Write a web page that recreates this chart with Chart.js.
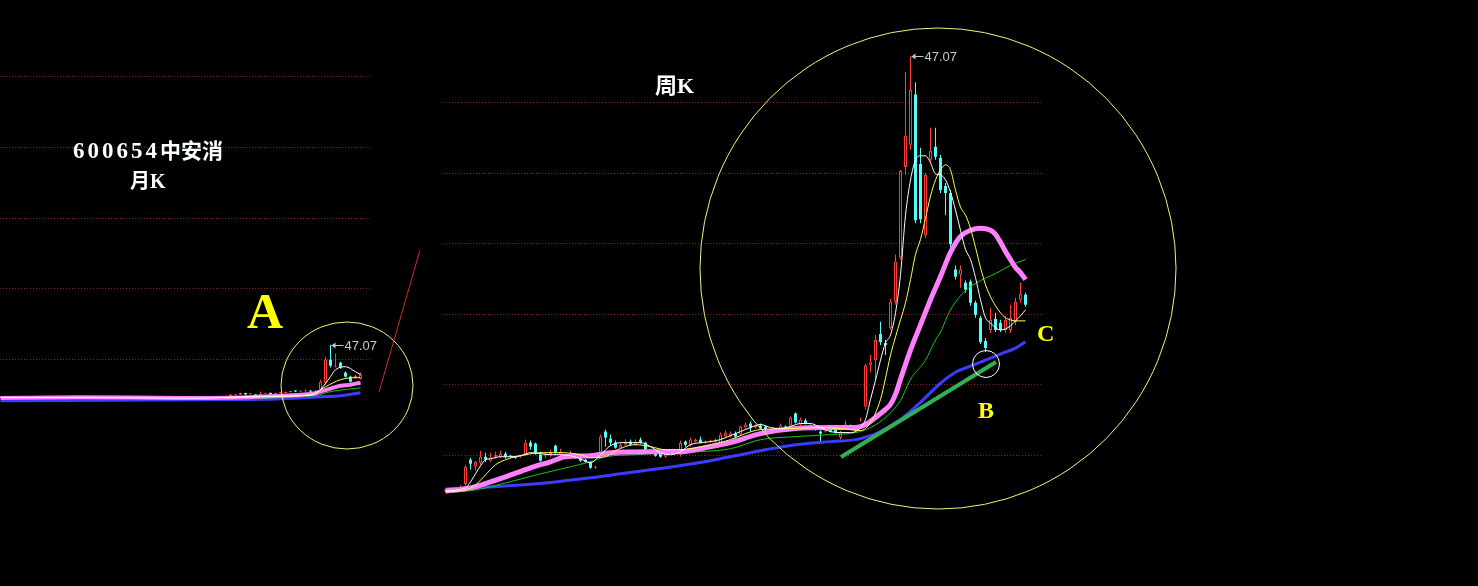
<!DOCTYPE html>
<html><head><meta charset="utf-8">
<script src="https://cdn.jsdelivr.net/npm/chart.js"></script>
<style>
html,body{margin:0;padding:0;background:#000;width:1478px;height:586px;overflow:hidden;}
#wrap{position:relative;width:1478px;height:586px;background:#000;}
canvas{position:absolute;left:0;top:0;}
.t{position:absolute;white-space:nowrap;line-height:1;font-weight:bold;font-family:"Liberation Serif","Noto Sans CJK SC",serif;}
.lbl{position:absolute;white-space:nowrap;font:13px/13px "Liberation Sans",Arial,sans-serif;color:#c8c8c8;}
</style></head><body>
<div id="wrap">
<canvas id="month" width="1478" height="586"></canvas>
<canvas id="week" width="1478" height="586"></canvas>
<div class="t" style="left:73px;top:139px;color:#fff;font-size:21px;"><span style="font-size:23px;letter-spacing:3px">600654</span><span>中安消</span></div>
<div class="t" style="left:130px;top:171px;color:#fff;font-size:20px;">月K</div>
<div class="t" style="left:655px;top:75px;color:#fff;font-size:22px;">周K</div>
<div class="t" style="left:247px;top:286px;color:#ffff00;font-size:50px;">A</div>
<div class="t" style="left:978px;top:398px;color:#ffff00;font-size:24px;">B</div>
<div class="t" style="left:1037px;top:321px;color:#ffff00;font-size:24px;">C</div>
<div class="lbl" id="peakW">47.07</div>
<div class="lbl" id="peakM">47.07</div>
</div>
<script>
// ---------------- weekly K (周K) ----------------
const weekOpen = [3.9,4.0,3.9,4.1,4.6,7.0,6.3,6.7,7.3,6.9,
 7.3,7.3,7.6,7.4,7.3,7.3,7.5,8.7,8.6,7.5,
 7.4,7.5,8.4,7.5,7.4,7.4,7.5,7.1,7.0,6.8,
 6.2,7.5,9.8,9.1,8.7,8.2,8.5,8.8,8.5,9.0,
 8.7,7.9,7.6,7.6,7.3,7.7,7.8,7.5,8.8,8.5,
 8.8,9.0,8.7,8.8,8.8,8.7,9.3,9.3,9.6,9.5,
 10.2,10.6,10.2,10.4,10.3,9.9,9.8,10.0,10.3,10.4,
 11.6,10.5,10.9,10.4,10.1,9.8,9.8,10.0,10.0,9.2,
 10.5,10.3,9.8,10.9,12.3,16.4,16.9,19.5,18.6,20.1,
 22.7,27.1,36.1,38.3,43.3,36.4,29.3,36.8,38.1,37.0,
 34.2,33.5,25.9,25.4,24.6,24.7,22.6,21.1,18.8,19.9,
 21.0,20.6,19.9,19.9,20.7,22.9,23.4];
const weekHigh = [4.1,4.1,4.2,4.5,6.5,7.2,6.9,7.9,7.7,7.7,
 7.8,7.9,7.8,7.5,7.4,7.5,9.0,8.9,8.7,7.8,
 7.8,8.0,8.5,8.1,7.6,7.9,7.6,7.2,7.1,6.9,
 6.4,9.5,10.0,9.5,8.9,8.7,9.0,9.0,9.0,9.2,
 8.8,8.0,7.8,7.7,7.7,7.9,8.0,8.9,8.9,9.2,
 9.1,9.3,8.9,9.0,9.1,9.7,9.9,9.8,9.8,10.4,
 10.7,10.8,10.5,10.6,10.4,10.0,10.1,10.6,10.4,11.3,
 11.7,11.2,11.1,10.5,10.2,9.9,10.3,10.1,10.1,9.9,
 10.9,10.5,10.1,11.2,16.5,17.4,19.4,20.7,18.9,23.0,
 27.4,35.8,45.5,47.07,44.5,38.0,35.5,40.0,40.0,37.3,
 34.5,33.8,26.3,26.3,24.8,24.9,22.8,21.3,19.1,22.1,
 21.6,20.9,21.3,22.4,23.1,24.6,23.6];
const weekLow = [3.8,3.8,3.8,4.0,4.4,6.0,5.9,6.5,6.8,6.8,
 7.1,7.2,7.1,7.2,7.1,7.2,7.4,8.0,7.5,6.8,
 7.2,7.3,7.6,7.4,7.1,7.3,7.1,6.8,6.7,6.1,
 6.1,7.3,8.3,8.4,8.1,8.1,8.4,8.4,8.4,8.6,
 7.9,7.6,7.3,7.2,7.2,7.6,7.7,7.3,8.3,8.3,
 8.7,8.6,8.6,8.7,8.7,8.6,9.2,9.2,9.1,9.4,
 10.1,9.8,10.1,10.0,9.9,9.6,9.7,9.8,9.9,10.3,
 10.6,10.4,10.5,10.1,9.9,8.8,9.7,9.7,9.6,9.0,
 10.4,10.1,9.7,10.8,12.0,15.7,15.0,18.4,17.4,19.9,
 22.4,26.9,35.3,37.8,30.5,30.5,29.0,36.5,36.8,33.5,
 31.3,28.0,24.9,24.1,23.6,22.3,21.1,18.5,17.7,19.6,
 19.7,19.7,19.6,19.6,20.4,22.6,22.2];
const weekClose = [4.0,3.9,4.0,4.3,6.3,6.6,6.8,7.3,7.0,7.2,
 7.5,7.6,7.3,7.3,7.2,7.4,8.7,8.3,7.7,6.9,
 7.6,7.7,7.7,7.8,7.2,7.7,7.2,6.9,6.8,6.2,
 6.3,9.3,9.2,8.7,8.2,8.5,8.8,8.5,8.8,8.7,
 8.0,7.8,7.4,7.3,7.6,7.8,7.9,8.7,8.5,9.0,
 9.0,8.7,8.8,8.9,9.0,9.5,9.7,9.6,9.3,10.3,
 10.5,10.2,10.4,10.1,10.0,9.7,10.0,10.4,10.0,11.2,
 10.7,11.0,10.6,10.2,10.0,9.6,10.2,9.8,9.7,9.7,
 10.6,10.2,10.0,11.0,16.4,16.7,18.9,18.7,18.4,22.7,
 26.7,35.7,39.2,43.75,30.8,30.9,35.3,37.7,37.1,33.8,
 33.5,28.4,25.2,25.9,23.9,22.6,21.4,18.7,18.1,20.9,
 19.9,19.9,20.9,21.1,22.7,23.5,22.4];
// moving-average lines: [week index, price]
const weekMAWhite = [[0,3.9],[4,4.2],[5,4.8],[6,5.6],[7,6.4],[8,7.0],[9,7.1],[11,7.3],[13,7.3],[15,7.4],[17,7.7],[19,7.6],[21,7.5],[23,7.5],[25,7.4],[27,7.1],[29,6.7],[31,7.5],[33,8.4],[35,8.7],[37,8.7],[39,8.7],[41,8.3],[43,7.7],[45,7.5],[47,7.8],[49,8.5],[51,8.7],[53,8.8],[55,9.0],[57,9.4],[59,9.8],[61,10.2],[63,10.5],[65,10.2],[67,10.1],[69,10.3],[71,10.6],[73,10.6],[75,10.2],[77,9.8],[79,9.7],[81,9.7],[82,9.8],[83,10.2],[84,11.0],[85,13.0],[86,14.9],[87,16.9],[88,18.6],[89,19.4],[90,21.6],[91,25.4],[92,31.3],[93,34.8],[94,36.8],[95,37.2],[96,37.2],[97,36.5],[98,35.4],[99,35.3],[100,34.8],[101,33.6],[102,31.8],[103,29.8],[104,27.9],[105,26.9],[106,25.1],[107,22.9],[108,21.1],[109,20.6],[110,20.1],[111,19.9],[112,20.0],[113,20.3],[114,20.8],[115,21.3],[116,21.9]];
const weekMAYellow = [[0,3.8],[4,4.0],[6,4.5],[8,5.5],[10,6.5],[12,7.0],[14,7.3],[16,7.5],[19,7.7],[23,7.7],[27,7.5],[29,7.2],[32,7.3],[34,7.9],[38,8.5],[41,8.3],[44,8.0],[47,8.0],[49,8.1],[53,8.5],[57,9.0],[60,9.6],[63,10.0],[70,10.1],[74,10.2],[79,10.1],[83,9.9],[85,10.7],[87,13.0],[88,15.1],[89,17.4],[90,19.2],[91,20.9],[92,22.6],[93,24.9],[94,27.4],[95,28.9],[96,31.0],[97,33.2],[98,34.8],[99,35.8],[100,36.3],[101,35.8],[102,33.8],[103,32.1],[104,31.3],[105,30.0],[106,28.1],[107,26.1],[108,24.4],[109,23.2],[110,22.3],[111,21.6],[112,21.1],[113,20.9],[114,20.8],[116,20.8]];
const weekMAPink = [[0,3.9],[5,4.2],[9,4.8],[12,5.3],[17,6.2],[21,6.8],[24,7.3],[29,7.4],[33,7.7],[41,7.8],[47,7.8],[51,8.1],[57,8.7],[63,9.6],[70,10.1],[77,10.2],[82,10.2],[84,10.5],[86,11.2],[88,12.0],[89,12.5],[90,13.5],[91,15.0],[93,17.9],[95,20.4],[97,22.9],[99,25.2],[101,27.6],[103,29.2],[105,29.8],[107,30.0],[109,29.8],[110,29.4],[111,28.6],[112,27.7],[113,26.9],[114,26.1],[115,25.6],[116,24.9]];
const weekMAGreen = [[0,3.7],[6,4.0],[12,4.7],[19,5.6],[25,6.3],[29,6.8],[32,7.3],[38,7.5],[44,7.7],[51,7.8],[57,8.1],[63,9.0],[70,9.3],[77,9.5],[82,9.7],[85,10.2],[88,11.2],[91,12.9],[93,15.0],[96,16.9],[98,18.9],[99,19.7],[101,21.9],[104,23.8],[107,24.8],[110,25.5],[113,26.3],[116,26.9]];
const weekMABlue = [[0,4.1],[9,4.3],[15,4.5],[22,4.8],[29,5.2],[35,5.6],[41,6.0],[48,6.5],[54,7.0],[58,7.4],[64,8.0],[70,8.5],[77,8.8],[82,9.0],[85,9.4],[87,9.8],[91,11.0],[95,12.7],[99,14.6],[102,15.7],[105,16.3],[108,16.9],[111,17.5],[114,18.1],[116,18.7]];
const weekGridTicks = [7.5,14.5,21.5,28.5,35.5,42.5];
const weekPeakIndex = 93;

// ---------------- monthly K (月K) ----------------
const monthOpen = [5.6,5.8,5.6,5.3,5.5,6.0,5.6,5.2,5.4,5.0,4.8,
 4.6,4.6,4.5,4.7,4.6,4.4,4.5,4.8,4.9,4.7,4.6,4.5,4.3,4.4,4.6,4.5,4.7,4.9,4.8,4.6,4.4,4.2,4.3,4.5,4.4,4.2,4.1,4.3,4.4,4.2,4.0,4.1,4.3,4.2,
 4.0,6.3,7.0,7.3,8.7,7.7,7.7,6.2,8.2,8.8,7.4,8.7,8.7,9.5,10.3,10.0,10.0,10.6,9.8,
 11.4,16.9,35.2,29.5,32.8,24.9,21.7,20.9,20.1];
const monthHigh = [6.2,6.4,6.0,5.8,6.3,6.4,5.9,5.6,5.7,5.4,5.2,
 4.9,4.8,4.9,4.9,4.8,4.7,5.0,5.2,5.1,4.9,4.8,4.7,4.6,4.8,4.8,4.9,5.1,5.1,5.0,4.8,4.6,4.5,4.7,4.7,4.6,4.4,4.5,4.6,4.6,4.4,4.3,4.5,4.5,4.4,
 6.5,7.9,7.9,9.0,8.9,8.5,7.9,10.0,9.0,9.2,8.9,9.3,9.9,10.4,10.8,10.6,11.7,11.1,11.2,
 19.3,37.5,47.07,40.0,33.6,25.7,22.5,23.3,25.0];
const monthLow = [5.2,5.4,5.0,4.9,5.2,5.4,5.0,4.8,4.8,4.6,4.4,
 4.3,4.3,4.3,4.4,4.2,4.2,4.3,4.6,4.5,4.4,4.3,4.1,4.1,4.2,4.3,4.3,4.5,4.6,4.4,4.2,4.0,4.0,4.1,4.2,4.0,3.9,3.9,4.1,4.0,3.8,3.8,3.9,4.0,3.8,
 3.8,5.9,6.8,7.1,6.8,7.1,6.1,6.1,8.1,7.3,7.2,8.3,8.6,9.1,9.6,9.6,9.9,8.8,9.0,
 9.8,15.3,28.8,29.0,28.0,21.0,17.0,20.1,19.5];
const monthClose = [5.8,5.6,5.3,5.5,6.0,5.6,5.2,5.4,5.0,4.8,4.6,
 4.6,4.5,4.7,4.6,4.4,4.5,4.8,4.9,4.7,4.6,4.5,4.3,4.4,4.6,4.5,4.7,4.9,4.8,4.6,4.4,4.2,4.3,4.5,4.4,4.2,4.1,4.3,4.4,4.2,4.0,4.1,4.3,4.2,4.0,
 6.3,7.0,7.3,8.7,7.7,7.7,6.2,8.2,8.8,7.4,8.7,8.7,9.5,10.3,10.0,10.0,10.6,9.8,10.0,
 17.7,35.2,30.4,30.4,28.8,21.7,17.7,22.5,23.3];
const monthMAPink = [[0,4.8],[16,5.4],[36,4.8],[50,5.4],[56,6.6],[60,7.4],[63,8.6],[64,9.8],[66,12.2],[68,14.5],[70,15.3],[72,16.9]];
const monthMABlue = [[0,2.6],[40,3.4],[56,4.2],[64,5.8],[68,6.6],[72,9.0]];
const monthMAWhite = [[0,5.2],[20,5.0],[40,4.6],[50,6.0],[60,6.6],[63,8.2],[64,11.4],[66,21.7],[67,27.2],[69,29.6],[71,25.6],[72,23.3]];
const monthMAYellow = [[45,4.8],[55,6.0],[62,7.4],[65,13.7],[68,19.3],[71,20.9],[72,20.9]];
const monthMAGreen = [[45,4.4],[63,6.6],[66,9.8],[72,12.9]];
const monthGridTicks = [36,92,148,204,260];
const monthPeakIndex = 66;
const peakValue = 47.07;

const RED = '#ff3c3c', CYAN = '#54fcfc';

function candleSets(open, high, low, close, bodyW) {
  const idx = open.map((_, i) => i);
  const up = i => close[i] >= open[i];
  return [
    { type: 'bar', data: idx.map(i => ({ x: i, y: [low[i], high[i]] })), barThickness: 1,
      backgroundColor: idx.map(i => up(i) ? RED : CYAN), borderWidth: 0, grouped: false,
      order: 10, minBarLength: 1, inflateAmount: 0 },
    { type: 'bar', data: idx.map(i => ({ x: i, y: [open[i], close[i]] })), barThickness: bodyW,
      backgroundColor: idx.map(i => up(i) ? '#000' : CYAN), borderColor: idx.map(i => up(i) ? RED : CYAN),
      borderWidth: idx.map(i => up(i) ? 1 : 0), borderSkipped: false, grouped: false,
      order: 9, minBarLength: 1, inflateAmount: 0 }
  ];
}
function maSet(points, color, width, order) {
  return { type: 'line', data: points.map(p => ({ x: p[0], y: p[1] })), borderColor: color,
    borderWidth: width, pointRadius: 0, cubicInterpolationMode: 'monotone', fill: false, order: order };
}
function gridPlugin(ticks, x0, x1) {
  return { id: 'grid', beforeDatasetsDraw(chart) {
    const c = chart.ctx, y = chart.scales.y;
    c.save(); c.strokeStyle = '#8b1a1a'; c.lineWidth = 1; c.setLineDash([1, 2]);
    ticks.forEach(v => { const py = Math.round(y.getPixelForValue(v)) + 0.5;
      c.beginPath(); c.moveTo(x0, py); c.lineTo(x1, py); c.stroke(); });
    c.restore();
  } };
}
function peakPlugin(idx, elId) {
  return { id: 'peak', afterDatasetsDraw(chart) {
    const x = chart.scales.x.getPixelForValue(idx), y = Math.round(chart.scales.y.getPixelForValue(peakValue)) + 0.5;
    const c = chart.ctx; c.save(); c.strokeStyle = '#c8c8c8'; c.fillStyle = '#c8c8c8'; c.lineWidth = 1;
    c.beginPath(); c.moveTo(x + 1, y); c.lineTo(x + 13, y); c.stroke();
    c.beginPath(); c.moveTo(x + 1, y); c.lineTo(x + 5, y - 3); c.lineTo(x + 5, y + 3); c.closePath(); c.fill();
    c.restore();
    const el = document.getElementById(elId); el.style.left = (x + 14) + 'px'; el.style.top = (y - 7) + 'px';
  } };
}
const annotPlugin = { id: 'annot', afterDraw(chart) {
  const c = chart.ctx; c.save();
  c.lineWidth = 1; c.strokeStyle = '#f2f27a';
  c.beginPath(); c.ellipse(938, 268.5, 238, 240.5, 0, 0, Math.PI * 2); c.stroke();
  c.beginPath(); c.ellipse(347, 385.5, 66, 63.5, 0, 0, Math.PI * 2); c.stroke();
  c.strokeStyle = '#d02a2a'; c.beginPath(); c.moveTo(379, 392); c.lineTo(420, 250); c.stroke();
  c.strokeStyle = '#34b054'; c.lineWidth = 4; c.lineCap = 'butt';
  c.beginPath(); c.moveTo(841, 457); c.lineTo(996, 362); c.stroke();
  c.strokeStyle = '#ffffff'; c.lineWidth = 1;
  c.beginPath(); c.arc(986, 364, 13.5, 0, Math.PI * 2); c.stroke();
  c.restore();
} };

const common = { responsive: false, animation: false, devicePixelRatio: 1, events: [],
  plugins: { legend: { display: false }, tooltip: { enabled: false } } };

new Chart(document.getElementById('month'), {
  type: 'bar',
  data: { datasets: [
    ...candleSets(monthOpen, monthHigh, monthLow, monthClose, 3),
    maSet(monthMABlue, '#3c3cff', 3, 5),
    maSet(monthMAGreen, '#10c810', 1, 4),
    maSet(monthMAPink, '#ff7fff', 4, 3),
    maSet(monthMAYellow, '#ffff50', 1, 2),
    maSet(monthMAWhite, '#ffffff', 1, 1)
  ] },
  options: Object.assign({}, common, {
    layout: { padding: { left: 0, right: 1106, top: 52, bottom: 182 } },
    scales: { x: { type: 'linear', display: false, min: -0.1, max: 74.3, offset: false },
              y: { type: 'linear', display: false, min: 0, max: 279.4 } }
  }),
  plugins: [gridPlugin(monthGridTicks, 0, 372), peakPlugin(monthPeakIndex, 'peakM')]
});

new Chart(document.getElementById('week'), {
  type: 'bar',
  data: { datasets: [
    ...candleSets(weekOpen, weekHigh, weekLow, weekClose, 3),
    maSet(weekMABlue, '#3c3cff', 3, 5),
    maSet(weekMAGreen, '#10c810', 1, 4),
    maSet(weekMAPink, '#ff7fff', 5, 3),
    maSet(weekMAYellow, '#ffff50', 1, 2),
    maSet(weekMAWhite, '#ffffff', 1, 1)
  ] },
  options: Object.assign({}, common, {
    layout: { padding: { left: 443, right: 435, top: 27, bottom: 86 } },
    scales: { x: { type: 'linear', display: false, min: -0.5, max: 119.5, offset: false },
              y: { type: 'linear', display: false, min: 3, max: 50 } }
  }),
  plugins: [gridPlugin(weekGridTicks, 443, 1043), peakPlugin(weekPeakIndex, 'peakW'), annotPlugin]
});
</script>
</body></html>
